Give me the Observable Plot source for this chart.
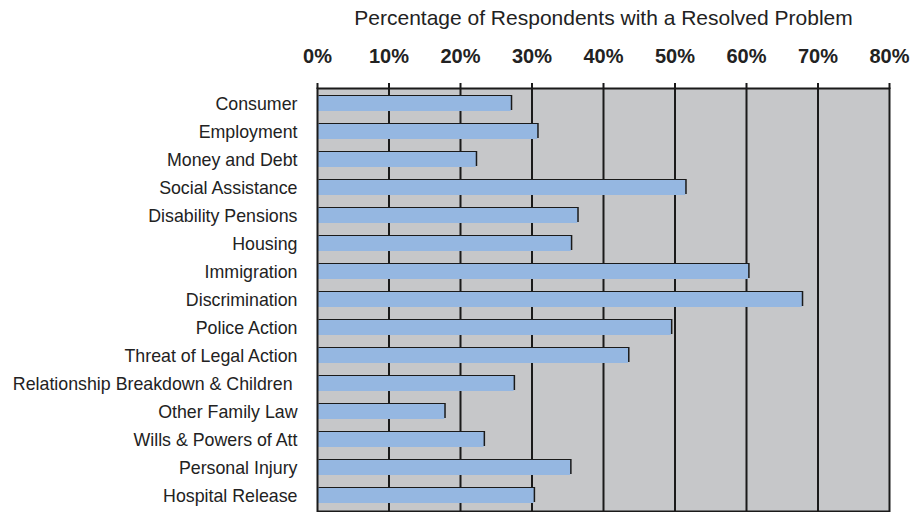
<!DOCTYPE html>
<html>
<head>
<meta charset="utf-8">
<script src="https://cdn.jsdelivr.net/npm/d3@7"></script>
<script src="https://cdn.jsdelivr.net/npm/@observablehq/plot@0.6"></script>
<style>
  html, body { margin: 0; padding: 0; background: #fff; }
</style>
</head>
<body>
<div id="chart"></div>
<script>
const title = "Percentage of Respondents with a Resolved Problem";
const categories = [
  "Consumer",
  "Employment",
  "Money and Debt",
  "Social Assistance",
  "Disability Pensions",
  "Housing",
  "Immigration",
  "Discrimination",
  "Police Action",
  "Threat of Legal Action",
  "Relationship Breakdown & Children\u00a0",
  "Other Family Law",
  "Wills & Powers of Att",
  "Personal Injury",
  "Hospital Release"
];
const values = [27.1, 30.8, 22.2, 51.5, 36.4, 35.5, 60.3, 67.8, 49.5, 43.5, 27.5, 17.8, 23.3, 35.4, 30.3];
const xTicks = [0, 10, 20, 30, 40, 50, 60, 70, 80];

const data = categories.map((c, i) => ({category: c, value: values[i]}));

const chart = Plot.plot({
  width: 922,
  height: 512,
  marginLeft: 317,
  marginRight: 33,
  marginTop: 88,
  marginBottom: 1,
  style: {fontFamily: "'Liberation Sans', Arial, sans-serif", background: "#fff", color: "#222"},
  x: {domain: [0, 80], axis: null, label: null},
  y: {domain: categories, axis: null, label: null, paddingInner: 0.48, paddingOuter: 0.24},
  marks: [
    Plot.frame({fill: "#c6c7c9"}),
    Plot.ruleX(xTicks.slice(1, -1), {stroke: "#1a1a1a", strokeWidth: 2}),
    Plot.barX(data, {x: "value", y: "category", fill: "#1a1a1a", dx: 1.5, dy: -1}),
    Plot.barX(data, {x: "value", y: "category", fill: "#95b7e1"}),
    Plot.frame({stroke: "#1a1a1a", strokeWidth: 2}),
    Plot.axisX(xTicks, {anchor: "top", label: null, tickSize: 6, tickPadding: 20, strokeWidth: 2, stroke: "#1a1a1a",
      tickFormat: d => d + "%", fontSize: 20, fontWeight: "bold", fill: "#222"}),
    Plot.axisY({label: null, tickSize: 0, tickPadding: 20, fontSize: 17.8, fill: "#222"}),
    Plot.text([title], {frameAnchor: "top", lineAnchor: "middle", dy: -70, fontSize: 21, fill: "#222"})
  ]
});
document.getElementById("chart").appendChild(chart);
</script>
</body>
</html>
